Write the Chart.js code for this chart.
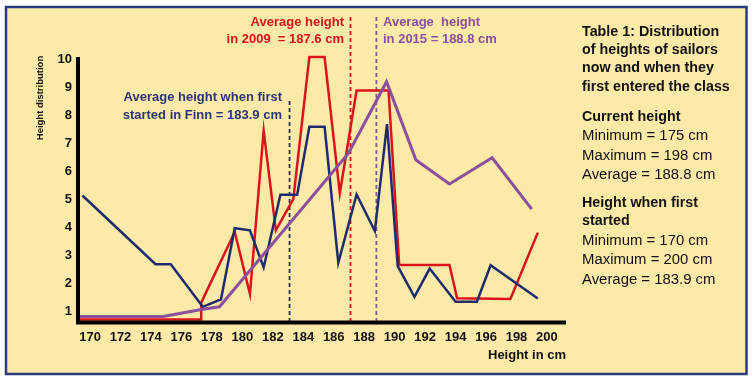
<!DOCTYPE html>
<html><head><meta charset="utf-8">
<script src="https://cdn.jsdelivr.net/npm/chart.js@4/dist/chart.umd.min.js"></script>
<style>html,body{margin:0;padding:0;background:#fff}canvas{display:block}</style>
</head><body>
<canvas id="c" width="752" height="381"></canvas>
<script>
// Height in cm (x) vs height distribution (y)
const firstStartedX = [169.5,174.3,175.3,177.4,178.6,179.5,180.5,181.4,182.5,183.6,184.4,185.4,186.3,187.5,188.7,189.5,190.2,191.3,192.3,194.0,195.4,196.3,199.4];
const firstStartedY = [5.14,2.68,2.68,1.15,1.42,3.97,3.89,2.56,5.17,5.17,7.6,7.6,2.73,5.18,3.87,7.7,2.61,1.51,2.52,1.33,1.33,2.64,1.45];
const year2009X = [169.21,177.3,177.3,179.5,180.5,181.4,182.2,183.35,184.4,185.4,186.4,187.5,189.6,190.3,193.6,194.1,197.6,199.4];
const year2009Y = [0.70,0.70,1.3,3.83,1.61,7.46,3.89,5.02,10.1,10.1,5.22,8.9,8.9,2.65,2.65,1.46,1.43,3.81];
const year2015X = [169.21,174.8,177.4,178.5,186.96,189.47,191.4,193.6,196.4,199.0];
const year2015Y = [0.80,0.80,1.06,1.15,6.65,9.22,6.41,5.55,6.49,4.65];
// Average lines (as drawn) and their top ends
const avgLineX = [183.1, 187.1, 188.8];
const avgLineTop = [8.56, 11.54, 11.54];
const xTickValues = [170,172,174,176,178,180,182,184,186,188,190,192,194,196,198,200];
const yTickValues = [1,2,3,4,5,6,7,8,9,10];
const X_MIN = 169.21, X_MAX = 201.25, Y_MIN = 0.606, Y_MAX = 10.176;

const NAVY = '#1f2b6c', RED = '#d9141d', PURPLE = '#8b4f9e';
const FONT = '"Liberation Sans", Arial, sans-serif';

function pts(xs, ys){ return xs.map((x,i)=>({x:x, y:ys[i]})); }
function vline(i){ return [{x:avgLineX[i], y:Y_MIN},{x:avgLineX[i], y:avgLineTop[i]}]; }

const bgPlugin = {
  id:'bg',
  beforeDraw(chart){
    const ctx = chart.ctx;
    ctx.save();
    ctx.fillStyle = '#ffffff';
    ctx.fillRect(0,0,chart.width,chart.height);
    ctx.fillStyle = '#fdeaa8';
    ctx.fillRect(6,7,740.5,367);
    ctx.strokeStyle = '#2a3b7a';
    ctx.lineWidth = 2.5;
    ctx.strokeRect(6,7,740.5,367);
    ctx.restore();
  },
  afterDraw(chart){
    const ctx = chart.ctx;
    ctx.save();
    // axes
    ctx.strokeStyle = '#000';
    ctx.lineWidth = 4;
    ctx.beginPath();
    ctx.moveTo(78, 57); ctx.lineTo(78, 324.5);
    ctx.moveTo(76, 322.5); ctx.lineTo(566, 322.5);
    ctx.stroke();
    // axis titles
    ctx.fillStyle = '#111';
    ctx.font = 'bold 13px ' + FONT;
    ctx.textBaseline = 'middle';
    ctx.textAlign = 'right';
    ctx.fillText('Height in cm', 566, 355);
    ctx.save();
    ctx.translate(40, 98);
    ctx.rotate(-Math.PI/2);
    ctx.textAlign = 'center';
    ctx.font = 'bold 9.5px ' + FONT;
    ctx.fillText('Height distribution', 0, 0);
    ctx.restore();
    // annotations
    ctx.font = 'bold 13px ' + FONT;
    ctx.fillStyle = RED;
    ctx.textAlign = 'right';
    ctx.fillText('Average height', 344, 22);
    ctx.fillText('in 2009  = 187.6 cm', 344, 39);
    ctx.fillStyle = PURPLE;
    ctx.textAlign = 'left';
    ctx.fillText('Average  height', 383, 22);
    ctx.fillText('in 2015 = 188.8 cm', 383, 39);
    ctx.fillStyle = '#2b3575';
    ctx.textAlign = 'right';
    ctx.fillText('Average height when first', 282, 97);
    ctx.fillText('started in Finn = 183.9 cm', 282, 115);
    // side table
    ctx.fillStyle = '#111';
    ctx.textAlign = 'left';
    const lines = [
      ['Table 1: Distribution',true,32],
      ['of heights of sailors',true,50],
      ['now and when they',true,68.5],
      ['first entered the class',true,87],
      ['Current height',true,117],
      ['Minimum = 175 cm',false,136],
      ['Maximum = 198 cm',false,156],
      ['Average = 188.8 cm',false,175],
      ['Height when first',true,203],
      ['started',true,221],
      ['Minimum = 170 cm',false,241],
      ['Maximum = 200 cm',false,260],
      ['Average = 183.9 cm',false,280]
    ];
    lines.forEach(l=>{
      ctx.font = l[1] ? ('bold 14.3px ' + FONT) : ('14.9px ' + FONT);
      ctx.fillText(l[0], 582, l[2]);
    });
    ctx.restore();
  }
};

new Chart(document.getElementById('c'), {
  type:'line',
  data:{
    datasets:[
      {data:pts(year2015X, year2015Y), borderColor:PURPLE, borderWidth:3},
      {data:pts(firstStartedX, firstStartedY), borderColor:NAVY, borderWidth:2.5},
      {data:pts(year2009X, year2009Y), borderColor:RED, borderWidth:2.5},
      {data:vline(0), borderColor:'#2c2f50', borderWidth:1.8, borderDash:[4,3], clip:false},
      {data:vline(1), borderColor:RED, borderWidth:1.8, borderDash:[4,3], clip:false},
      {data:vline(2), borderColor:'#7d5a8e', borderWidth:1.8, borderDash:[4,3], clip:false}
    ]
  },
  options:{
    responsive:false,
    devicePixelRatio:1,
    animation:false,
    layout:{padding:{left:0,right:186,top:55,bottom:0}},
    elements:{point:{radius:0},line:{tension:0,fill:false,borderCapStyle:'butt',borderJoinStyle:'miter'}},
    plugins:{legend:{display:false},tooltip:{enabled:false}},
    scales:{
      x:{type:'linear',min:X_MIN,max:X_MAX,
        grid:{display:false,drawTicks:false},border:{display:false},
        afterBuildTicks(s){ s.ticks = xTickValues.map(v=>({value:v})); },
        afterFit(s){ s.height = 59; },
        ticks:{padding:8,color:'#111',font:{family:FONT,size:13,weight:'bold'},maxRotation:0,autoSkip:false}
      },
      y:{type:'linear',min:Y_MIN,max:Y_MAX,
        grid:{display:false,drawTicks:false},border:{display:false},
        afterBuildTicks(s){ s.ticks = yTickValues.map(v=>({value:v})); },
        afterFit(s){ s.width = 78; },
        ticks:{padding:6,color:'#111',font:{family:FONT,size:13,weight:'bold'}}
      }
    }
  },
  plugins:[bgPlugin]
});
</script>
</body></html>
